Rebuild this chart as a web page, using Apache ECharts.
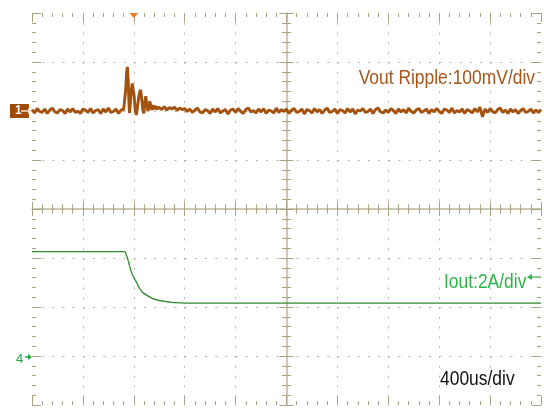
<!DOCTYPE html>
<html><head><meta charset="utf-8">
<script src="https://cdn.jsdelivr.net/npm/echarts@6/dist/echarts.min.js"></script>
<style>html,body{margin:0;padding:0;background:#fff}#c{width:544px;height:408px}</style>
</head><body><div id="c"></div>
<script>
// ---- data (time in us, Vout ripple in mV, Iout in A) ----
const timeRange = [-800, 3200];          // 10 div x 400us
const timeStep = 400;
const vRange = [-600, 200];              // ch1, 100mV/div
const iRange = [-2, 14];                 // ch4, 2A/div
const noiseDt = 20;
const vPreStart = -800;
const vPreNoise = [3,-4,5,-1,-3,4,-5,2,6,-2,-4,3,1,-5,4,-2,5,-3,0,-5,4,2,-3,5,-4,1,3,-5,4,-2,6,-3,-1,4,-5,2,3];
const vSpikeTime = [-77,-69,-63,-57,-50,-44,-39,-34,-28,-20,-12,-4,3,11,20,28,37,46,54,63,71,79,86,94,102,110,118,126,134,141,151,159,171,182,194];
const vSpikeVal  = [2,6,45,78,90,62,22,-4,12,42,56,58,30,2,-8,6,26,38,43,22,2,-5,18,30,14,0,6,20,10,2,12,4,10,3,8];
const vPostStart = 200;
const vPostNoise = [
 8,3,9,2,7,4,8,1,6,3,
 5,-1,4,-3,2,6,-2,-4,3,1,
 -5,4,-2,5,-4,0,3,-6,2,4,
 -3,5,-1,-5,3,6,-2,1,-4,4,
 -2,5,-5,2,0,-4,6,-3,3,-1,
 4,-5,2,5,-3,-1,4,-6,3,1,
 -4,5,-2,3,-5,2,6,-3,-1,4,
 -5,3,1,-4,5,-2,4,-6,2,0,
 5,-3,-1,4,-5,3,6,-2,-4,2,
 -3,5,1,-5,4,-2,3,-4,6,-1,
 -4,2,5,-3,0,4,-5,3,-2,5,
 -1,-5,4,2,-3,6,-4,1,-2,4,
 -5,3,0,-4,5,-2,8,-12,4,-3,
 5,-1,-4,3,6,-3,2,-5,4,-2,
 3,-5,1,5,-3,-1,4,-4,2,-3,
 3];
const iTime = [-800,-69,-55,-43,-32,-22,-12,-4,8,23,35,52,72,88,108,127,147,167,206,245,284,324,418,3200];
const iVal  = [4.26,4.26,4.08,3.88,3.67,3.47,3.34,3.24,3.12,3.00,2.86,2.71,2.58,2.53,2.46,2.41,2.35,2.31,2.26,2.23,2.20,2.18,2.16,2.16];
const textVout = 'Vout Ripple:100mV/div';
const textIout = 'Iout:2A/div';
const textTime = '400us/div';

// ---- build series data ----
const vData = [];
vPreNoise.forEach((v,i)=>vData.push([vPreStart+i*noiseDt, v]));
vSpikeTime.forEach((t,i)=>vData.push([t, vSpikeVal[i]]));
vPostNoise.forEach((v,i)=>vData.push([vPostStart+i*noiseDt, v]));
const iData = iTime.map((t,i)=>[t, iVal[i]]);

const tickC = '#a9a283', dotC = '#b9b59c', axisC = '#bdb79a';
const hidden = {show:false};
function xAx(pos, opts){
  return Object.assign({type:'value', min:timeRange[0], max:timeRange[1], interval:timeStep, position:pos,
    axisLabel:hidden, splitLine:hidden,
    axisLine:{show:false, onZero:false},
    axisTick:{show:true, inside:true, length:9, lineStyle:{color:tickC}},
    minorTick:{show:true, splitNumber:5, length:4, lineStyle:{color:tickC}},
    minorSplitLine:hidden}, opts||{});
}
function yAx(pos, range, opts){
  return Object.assign({type:'value', min:range[0], max:range[1], interval:(range[1]-range[0])/8, position:pos,
    axisLabel:hidden, splitLine:hidden,
    axisLine:{show:false, onZero:false},
    axisTick:{show:true, inside:true, length:9, lineStyle:{color:tickC}},
    minorTick:{show:true, splitNumber:5, length:4, lineStyle:{color:tickC}},
    minorSplitLine:hidden}, opts||{});
}
const chart = echarts.init(document.getElementById('c'), null, {renderer:'canvas'});
const G = {left:32, right:3, top:13, bottom:3};
const gw = 544-G.left-G.right, gh = 408-G.top-G.bottom;
chart.setOption({
  animation:false,
  backgroundColor:'#ffffff',
  grid:Object.assign({containLabel:false}, G),
  xAxis:[
    xAx('bottom', {splitLine:{show:true, showMinLine:false, showMaxLine:false, lineStyle:{color:dotC, width:1, type:[2,7.8]}}}),
    xAx('top'),
    xAx('bottom', {offset:-gh/2, axisLine:{show:true, onZero:false, lineStyle:{color:axisC, width:1.5}},
        axisTick:{show:true, inside:true, length:7, lineStyle:{color:tickC}}, minorTick:{show:true, splitNumber:5, length:4.5, lineStyle:{color:tickC}}}),
    xAx('bottom', {offset:-gh/2, axisTick:{show:true, inside:false, length:7, lineStyle:{color:tickC}}, minorTick:{show:true, splitNumber:5, length:4.5, lineStyle:{color:tickC}}})
  ],
  yAxis:[
    yAx('left', vRange, {splitLine:{show:true, showMinLine:false, showMaxLine:false, lineStyle:{color:dotC, width:1, type:[2,8.18]}}}),
    yAx('right', iRange, {axisTick:hidden, minorTick:hidden}),
    yAx('right', vRange),
    yAx('left', vRange, {offset:-gw/2, axisLine:{show:true, onZero:false, lineStyle:{color:axisC, width:1.5}},
        axisTick:{show:true, inside:true, length:7, lineStyle:{color:tickC}}, minorTick:{show:true, splitNumber:5, length:4.5, lineStyle:{color:tickC}}}),
    yAx('left', vRange, {offset:-gw/2, axisTick:{show:true, inside:false, length:7, lineStyle:{color:tickC}}, minorTick:{show:true, splitNumber:5, length:4.5, lineStyle:{color:tickC}}})
  ],
  series:[
    {type:'line', name:'Vout', xAxisIndex:0, yAxisIndex:0, data:vData, showSymbol:false, symbol:'none',
     lineStyle:{color:'#a3520f', width:2.9}, z:5},
    {type:'line', name:'Iout', xAxisIndex:0, yAxisIndex:1, data:iData, showSymbol:false, symbol:'none',
     smooth:0.3, smoothMonotone:'x', lineStyle:{color:'#2e8b2e', width:1.4}, z:5}
  ]
});

// ---- markers & labels positioned through the axes ----
const y1 = chart.convertToPixel({yAxisIndex:0}, 0);
const y4 = chart.convertToPixel({yAxisIndex:1}, 0);
const xTrig = chart.convertToPixel({xAxisIndex:0}, 0);
const xRight = chart.convertToPixel({xAxisIndex:0}, timeRange[1]);
const yTop = chart.convertToPixel({yAxisIndex:0}, vRange[1]);
const yI2 = chart.convertToPixel({yAxisIndex:1}, 3.22);
const font = "21px 'Liberation Sans',Arial,sans-serif";
const sx = 0.83;
chart.setOption({graphic:[
  {type:'rect', shape:{x:10, y:y1-7, width:19, height:14}, style:{fill:'#a04a08'}},
  {type:'text', style:{text:'1', x:15, y:y1, font:"bold 12px 'Liberation Sans',sans-serif", fill:'#ffffff', verticalAlign:'middle'}},
  {type:'line', shape:{x1:21, y1:y1, x2:28, y2:y1}, style:{stroke:'#f3e3d0', lineWidth:1.5}},
  {type:'polygon', shape:{points:[[28,y1-3],[32,y1],[28,y1+3]]}, style:{fill:'#f3e3d0'}},
  {type:'text', style:{text:'4', x:16, y:y4+3, font:"13px 'Liberation Sans',sans-serif", fill:'#22a33a', verticalAlign:'middle'}},
  {type:'line', shape:{x1:25, y1:y4+1, x2:29, y2:y4+1}, style:{stroke:'#22a33a', lineWidth:1.5}},
  {type:'polygon', shape:{points:[[28,y4-2],[32,y4+1],[28,y4+4]]}, style:{fill:'#22a33a'}},
  {type:'polygon', shape:{points:[[xTrig-4.5,yTop],[xTrig+4.5,yTop],[xTrig,yTop+5]]}, style:{fill:'#f47a22'}, z:10},
  {type:'text', x:535, y:78.5, scaleX:sx, style:{text:textVout, x:0, y:0, font:font, fill:'#a5561c', align:'right', verticalAlign:'middle'}},
  {type:'text', x:444, y:282.5, scaleX:sx, style:{text:textIout, x:0, y:0, font:font, fill:'#2fb34a', align:'left', verticalAlign:'middle'}},
  {type:'line', shape:{x1:531, y1:yI2, x2:xRight, y2:yI2}, style:{stroke:'#2fb34a', lineWidth:1.2}},
  {type:'polygon', shape:{points:[[527,yI2],[532,yI2-3],[532,yI2+3]]}, style:{fill:'#2fb34a'}},
  {type:'text', x:440, y:379.5, scaleX:sx, style:{text:textTime, x:0, y:0, font:font, fill:'#111111', align:'left', verticalAlign:'middle'}}
]});
</script></body></html>
